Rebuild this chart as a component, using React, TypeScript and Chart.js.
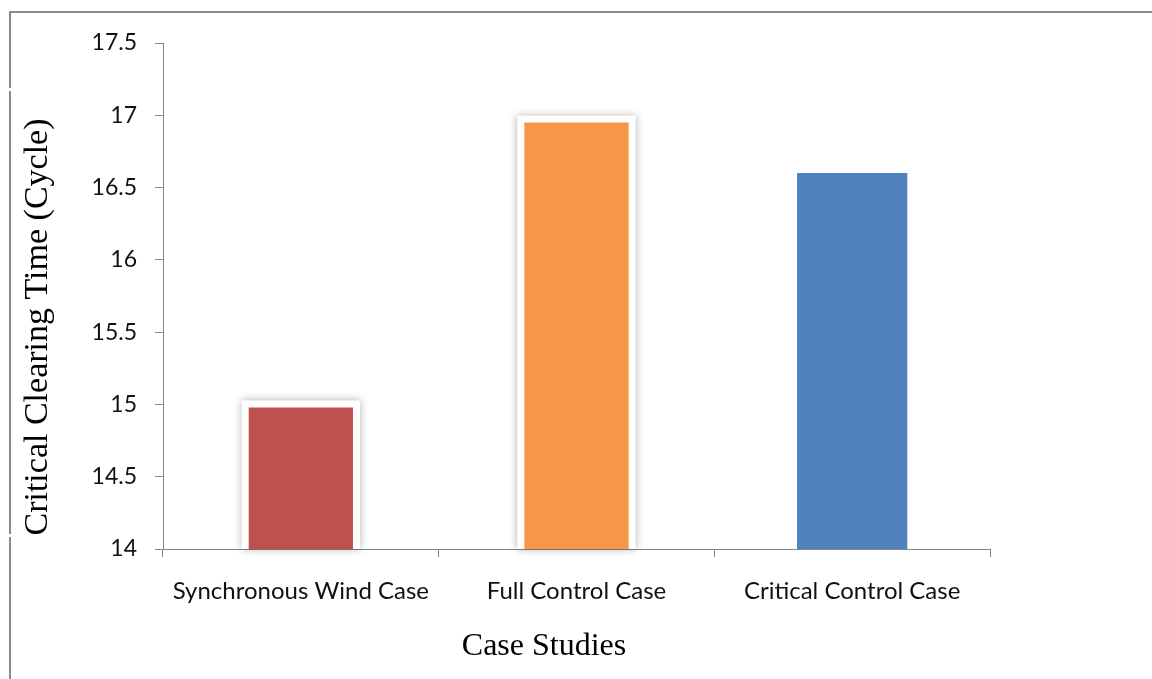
import React, { useEffect, useRef } from "react";
import { Chart, registerables } from "chart.js";

Chart.register(...registerables);

// Case studies and their critical clearing times (in cycles)
const categories = ["Synchronous Wind Case", "Full Control Case", "Critical Control Case"];
const clearingTimes = [15.0, 16.97, 16.6];
const barColors = ["#C0504D", "#F79646", "#4F81BD"];
const framedBars = [true, true, false];
const yTickValues = [14, 14.5, 15, 15.5, 16, 16.5, 17, 17.5];

const xTitle = "Case Studies";
const yTitle = "Critical Clearing Time (Cycle)";

const AXIS_GRAY = "#868686";
const SANS = "Lato, 'Open Sans', sans-serif";
const SERIF = "'Liberation Serif', 'Times New Roman', serif";

// Draws a soft white frame with a grey glow behind selected bars
const barFramePlugin = {
  id: "barFrame",
  beforeDatasetsDraw(chart: any) {
    const ctx = chart.ctx;
    const meta = chart.getDatasetMeta(0);
    const bottom = chart.chartArea.bottom;
    meta.data.forEach((bar: any, i: number) => {
      if (!framedBars[i]) return;
      const { x, y, width } = bar.getProps(["x", "y", "width"], true);
      const pad = 4;
      ctx.save();
      ctx.shadowColor = "rgba(0,0,0,0.3)";
      ctx.shadowBlur = 8;
      ctx.fillStyle = "#ffffff";
      ctx.fillRect(x - width / 2 - pad, y - pad, width + pad * 2, bottom - y + pad);
      ctx.restore();
    });
  },
};

// Axis titles placed in the margins around the plot
const axisTitlePlugin = {
  id: "axisTitles",
  afterDraw(chart: any) {
    const ctx = chart.ctx;
    ctx.save();
    ctx.fillStyle = "#000000";
    ctx.textAlign = "center";
    ctx.textBaseline = "middle";
    ctx.font = "32px " + SERIF;
    ctx.fillText(xTitle, 544, 647);
    ctx.font = "34px " + SERIF;
    ctx.translate(38, 327);
    ctx.rotate(-Math.PI / 2);
    ctx.fillText(yTitle, 0, 0);
    ctx.restore();
  },
};

function BarChart() {
  const canvasRef = useRef<HTMLCanvasElement | null>(null);

  useEffect(() => {
    if (!canvasRef.current) return;
    const chart = new Chart(canvasRef.current, {
      type: "bar",
      data: {
        labels: categories,
        datasets: [
          {
            data: clearingTimes,
            backgroundColor: barColors,
            borderColor: "#ffffff",
            borderWidth: framedBars.map((f) => (f ? 3 : 0)),
            borderSkipped: false,
            barPercentage: 0.4,
            categoryPercentage: 1,
          },
        ],
      },
      options: {
        responsive: false,
        animation: false,
        devicePixelRatio: 1,
        layout: { padding: { top: 43, right: 162, left: 0, bottom: 0 } },
        plugins: {
          legend: { display: false },
          tooltip: { enabled: false },
        },
        scales: {
          x: {
            z: 1,
            grid: {
              offset: true,
              drawOnChartArea: false,
              drawTicks: true,
              tickLength: 8,
              color: AXIS_GRAY,
            },
            border: { color: AXIS_GRAY, width: 1 },
            ticks: {
              color: "#111111",
              font: { family: SANS, size: 24 },
              padding: 20,
              maxRotation: 0,
              autoSkip: false,
            },
            afterFit(scale: any) {
              scale.height = 130;
            },
          },
          y: {
            min: 14,
            max: 17.5,
            grid: {
              drawOnChartArea: false,
              drawTicks: true,
              tickLength: 8,
              color: AXIS_GRAY,
            },
            border: { color: AXIS_GRAY, width: 1 },
            ticks: {
              color: "#111111",
              font: { family: SANS, size: 23 },
              padding: 18,
              callback: (v: any) => String(v),
            },
            afterBuildTicks(scale: any) {
              scale.ticks = yTickValues.map((value) => ({ value }));
            },
            afterFit(scale: any) {
              scale.width = 163;
            },
          },
        },
      },
      plugins: [barFramePlugin, axisTitlePlugin],
    });
    return () => chart.destroy();
  }, []);

  return <canvas ref={canvasRef} width={1152} height={679} style={{ display: "block" }} />;
}

export default function App() {
  return (
    <div style={{ position: "absolute", left: 0, top: 0, width: 1152, height: 679, background: "#ffffff", overflow: "hidden" }}>
      <BarChart />
      {/* outer frame lines */}
      <div style={{ position: "absolute", left: 9, top: 11, width: 1143, height: 2, background: "#8a8a8a" }} />
      <div style={{ position: "absolute", left: 9, top: 11, width: 2, height: 77, background: "#8a8a8a" }} />
      <div style={{ position: "absolute", left: 9, top: 91, width: 2, height: 443, background: "#8a8a8a" }} />
      <div style={{ position: "absolute", left: 9, top: 537, width: 2, height: 142, background: "#8a8a8a" }} />
    </div>
  );
}
